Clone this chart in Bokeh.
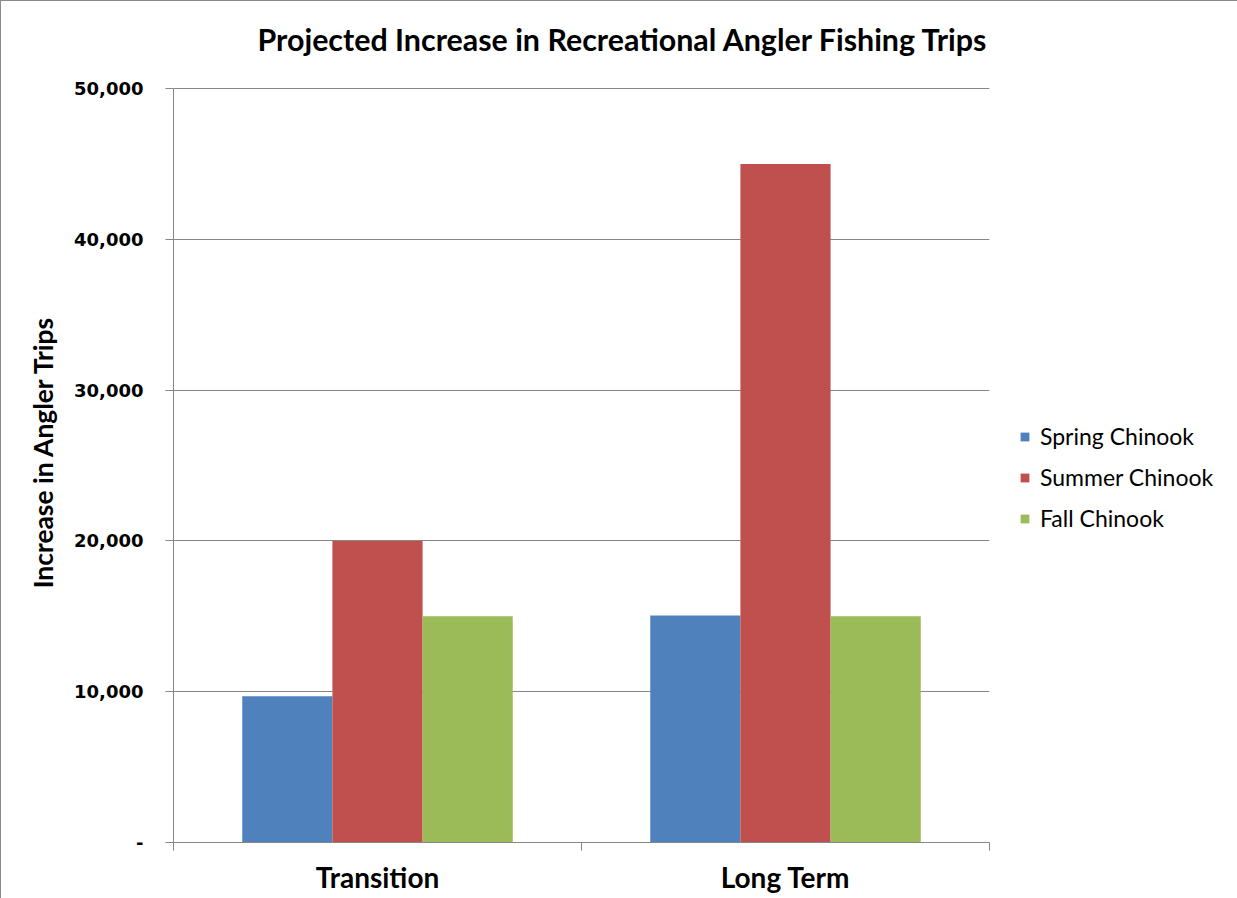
from bokeh.plotting import figure
from bokeh.models import (FixedTicker, NumeralTickFormatter, ColumnDataSource,
                          Legend, LegendItem, Range1d)
from bokeh.transform import dodge
from bokeh.embed import file_html
from bokeh.resources import INLINE

categories = ["Transition", "Long Term"]
cat_pos = [0.5, 1.5]
spring = [9700, 15050]
summer = [20000, 45000]
fall = [15000, 15000]
series_names = ["Spring Chinook", "Summer Chinook", "Fall Chinook"]
colors = ["#4F81BD", "#C0504D", "#9BBB59"]
y_ticks = [0, 10000, 20000, 30000, 40000, 50000]
y_max = 50000

# layout: value axis 0..50000 occupies 754 px; frame extends 27 px above it
px_axis = 754
px_extra = 27
y_top = y_max * (1 + px_extra / px_axis)

src = ColumnDataSource(dict(x=cat_pos, spring=spring, summer=summer, fall=fall))

p = figure(frame_width=816, frame_height=px_axis + px_extra, output_backend="svg",
           toolbar_location=None,
           x_range=Range1d(0, 2), y_range=Range1d(0, y_top),
           min_border_left=172, min_border_right=249, min_border_top=60,
           min_border_bottom=57)
p.styles = {"border": "1px solid #8a8a8a", "box-sizing": "border-box"}
p.outline_line_color = None
p.background_fill_color = "white"
p.border_fill_color = "white"

bw = 0.221
r1 = p.vbar(x=dodge("x", -bw, range=p.x_range), top="spring", width=bw, source=src,
            fill_color=colors[0], line_color=None)
r2 = p.vbar(x=dodge("x", 0, range=p.x_range), top="summer", width=bw, source=src,
            fill_color=colors[1], line_color=None)
r3 = p.vbar(x=dodge("x", bw, range=p.x_range), top="fall", width=bw, source=src,
            fill_color=colors[2], line_color=None)

p.title.text = "Projected Increase in Recreational Angler Fishing Trips"
p.title.text_font = "Lato"
p.title.text_font_style = "bold"
p.title.text_font_size = "30.4px"
p.title.align = "left"
p.title.vertical_align = "bottom"
p.title.offset = 84
p.title.standoff = 10
p.title.text_color = "#000000"

# x axis
p.xaxis.ticker = FixedTicker(ticks=cat_pos, minor_ticks=[0, 1, 2])
p.xaxis.major_label_overrides = {cat_pos[i]: categories[i] for i in range(2)}
p.xaxis.major_tick_line_color = None
p.xaxis.minor_tick_in = 0
p.xaxis.minor_tick_out = 8
p.xaxis.minor_tick_line_color = "#868686"
p.xaxis.axis_line_color = "#868686"
p.xaxis.major_label_text_font = "Lato"
p.xaxis.major_label_text_font_style = "bold"
p.xaxis.major_label_text_font_size = "28px"
p.xaxis.major_label_text_color = "#000000"
p.xaxis.major_label_standoff = 9

# y axis
p.yaxis.ticker = FixedTicker(ticks=y_ticks)
p.yaxis.bounds = (0, y_max)
p.yaxis.formatter = NumeralTickFormatter(format="0,0")
p.yaxis.major_label_overrides = {0: "-"}
p.yaxis.major_tick_in = 0
p.yaxis.major_tick_out = 8
p.yaxis.minor_tick_line_color = None
p.yaxis.major_tick_line_color = "#868686"
p.yaxis.axis_line_color = "#868686"
p.yaxis.major_label_text_font = "DejaVu Sans"
p.yaxis.major_label_text_font_style = "bold"
p.yaxis.major_label_text_font_size = "18px"
p.yaxis.major_label_text_color = "#000000"
p.yaxis.major_label_standoff = 22
p.yaxis.axis_label = "Increase in Angler Trips"
p.yaxis.axis_label_text_font = "Lato"
p.yaxis.axis_label_text_font_style = "bold"
p.yaxis.axis_label_text_font_size = "26.4px"
p.yaxis.axis_label_text_color = "#000000"
p.yaxis.axis_label_standoff = 12

p.xgrid.grid_line_color = None
p.ygrid.grid_line_color = "#868686"
p.ygrid.ticker = FixedTicker(ticks=y_ticks[1:])

legend = Legend(items=[LegendItem(label=series_names[0], renderers=[r1]),
                       LegendItem(label=series_names[1], renderers=[r2]),
                       LegendItem(label=series_names[2], renderers=[r3])],
                location=(30, 310), orientation="vertical")
legend.border_line_color = None
legend.background_fill_alpha = 0
legend.padding = 0
legend.margin = 0
legend.glyph_width = 11
legend.glyph_height = 11
legend.label_standoff = 10
legend.label_text_font = "Lato"
legend.label_text_font_size = "23px"
legend.label_text_color = "#000000"
legend.label_height = 20
legend.spacing = 13
p.add_layout(legend, "right")

open("out.html", "w").write(file_html(p, INLINE))
